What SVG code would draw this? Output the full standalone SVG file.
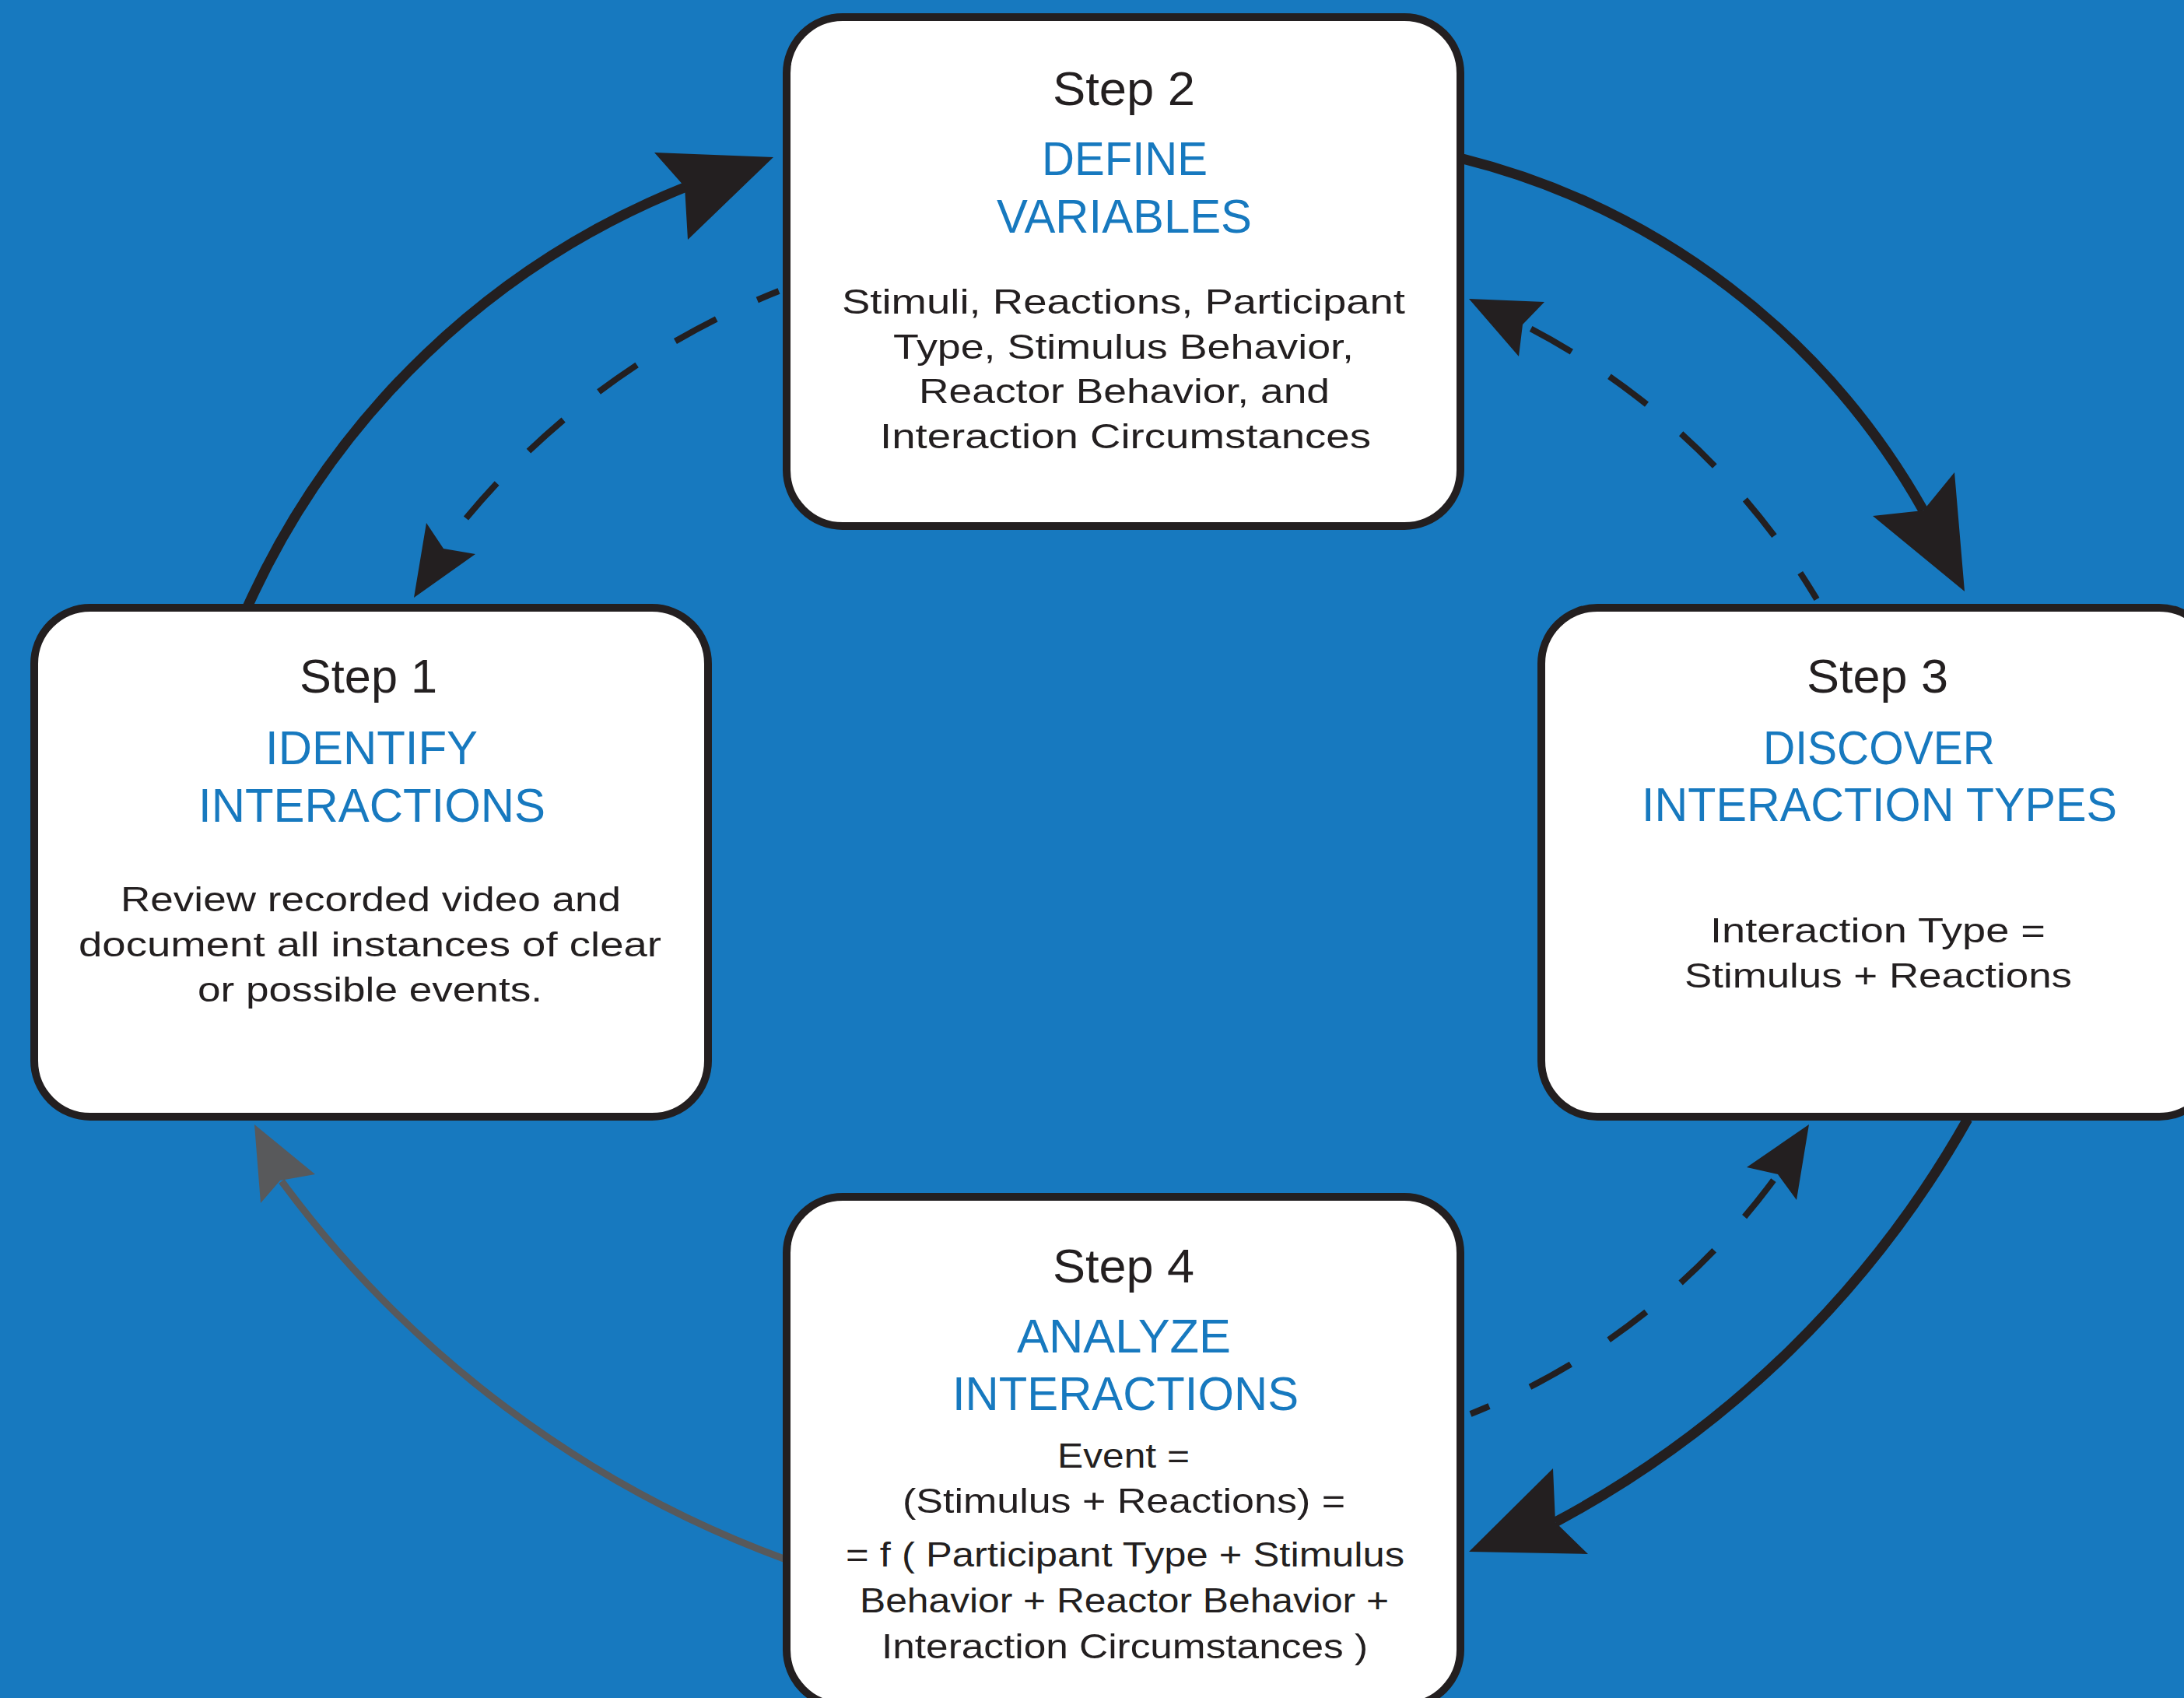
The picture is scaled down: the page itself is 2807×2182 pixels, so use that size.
<svg xmlns="http://www.w3.org/2000/svg" width="2807" height="2182" viewBox="0 0 2807 2182">
<style>
.box{fill:#ffffff;stroke:#231f20;stroke-width:10}
.solid{fill:none;stroke:#231f20;stroke-width:13}
.dash{fill:none;stroke:#231f20;stroke-width:8;stroke-dasharray:60 58}
.gray{fill:none;stroke:#58595b;stroke-width:9}
.head{fill:#231f20}
.ghead{fill:#58595b}
text{font-family:"Liberation Sans",Arial,sans-serif}
.step{font-size:61px;fill:#231f20}
.title{font-size:61px;fill:#1779bf}
.body{font-size:45px;fill:#231f20}
</style>
<rect x="0" y="0" width="2807" height="2182" fill="#1779bf"/>
<g id="connectors">
  <!-- Step1 -> Step2 solid -->
  <path class="solid" d="M318,780 A1041,1041 0 0 1 882,240"/>
  <polygon class="head" points="994,202 841,196 880,240 884,308"/>
  <!-- Step2 -> Step1 dashed -->
  <path class="dash" style="stroke-dashoffset:30" d="M1001,374 A1001,1001 0 0 0 572,700"/>
  <polygon class="head" points="532,768 548,672 570,705 611,712"/>
  <!-- Step2 -> Step3 solid -->
  <path class="solid" d="M1880,204 A944,944 0 0 1 2472,656"/>
  <polygon class="head" points="2525,760 2407,663 2472,656 2512,607"/>
  <!-- Step3 -> Step2 dashed -->
  <path class="dash" style="stroke-dashoffset:20" d="M2335,770 A932,932 0 0 0 1957,417"/>
  <polygon class="head" points="1888,384 1985,388 1957,417 1952,458"/>
  <!-- Step3 -> Step4 solid -->
  <path class="solid" d="M2529,1438 A1325,1325 0 0 1 1999,1956"/>
  <polygon class="head" points="1888,1994 1996,1887 1999,1956 2041,1997"/>
  <!-- Step4 -> Step3 dashed -->
  <path class="dash" style="stroke-dashoffset:34" d="M1890,1817 A899,899 0 0 0 2285,1509"/>
  <polygon class="head" points="2325,1445 2245,1500 2285,1509 2309,1542"/>
  <!-- Step4 -> Step1 gray -->
  <path class="gray" d="M1010,2004 A1405,1405 0 0 1 362,1518"/>
  <polygon class="ghead" points="327,1445 405,1509 360,1517 335,1546"/>
</g>
<g id="step1">
  <rect class="box" x="44" y="781" width="866" height="654" rx="72" ry="72"/>
  <text class="step" x="385" y="890" textLength="177" lengthAdjust="spacingAndGlyphs">Step 1</text>
  <text class="title" x="341" y="982" textLength="273" lengthAdjust="spacingAndGlyphs">IDENTIFY</text>
  <text class="title" x="255" y="1056" textLength="446" lengthAdjust="spacingAndGlyphs">INTERACTIONS</text>
  <text class="body" x="155" y="1171" textLength="643" lengthAdjust="spacingAndGlyphs">Review recorded video and</text>
  <text class="body" x="101" y="1229" textLength="749" lengthAdjust="spacingAndGlyphs">document all instances of clear</text>
  <text class="body" x="254" y="1287" textLength="443" lengthAdjust="spacingAndGlyphs">or possible events.</text>
</g>
<g id="step2">
  <rect class="box" x="1011" y="22" width="866" height="654" rx="72" ry="72"/>
  <text class="step" x="1353" y="135" textLength="183" lengthAdjust="spacingAndGlyphs">Step 2</text>
  <text class="title" x="1339" y="225" textLength="213" lengthAdjust="spacingAndGlyphs">DEFINE</text>
  <text class="title" x="1281" y="299" textLength="328" lengthAdjust="spacingAndGlyphs">VARIABLES</text>
  <text class="body" x="1082" y="403" textLength="724" lengthAdjust="spacingAndGlyphs">Stimuli, Reactions, Participant</text>
  <text class="body" x="1148" y="461" textLength="592" lengthAdjust="spacingAndGlyphs">Type, Stimulus Behavior,</text>
  <text class="body" x="1181" y="518" textLength="528" lengthAdjust="spacingAndGlyphs">Reactor Behavior, and</text>
  <text class="body" x="1131" y="576" textLength="631" lengthAdjust="spacingAndGlyphs">Interaction Circumstances</text>
</g>
<g id="step3">
  <rect class="box" x="1981" y="781" width="866" height="654" rx="72" ry="72"/>
  <text class="step" x="2322" y="890" textLength="182" lengthAdjust="spacingAndGlyphs">Step 3</text>
  <text class="title" x="2266" y="982" textLength="298" lengthAdjust="spacingAndGlyphs">DISCOVER</text>
  <text class="title" x="2110" y="1055" textLength="611" lengthAdjust="spacingAndGlyphs">INTERACTION TYPES</text>
  <text class="body" x="2198" y="1211" textLength="431" lengthAdjust="spacingAndGlyphs">Interaction Type =</text>
  <text class="body" x="2165" y="1269" textLength="498" lengthAdjust="spacingAndGlyphs">Stimulus + Reactions</text>
</g>
<g id="step4">
  <rect class="box" x="1011" y="1538" width="866" height="654" rx="72" ry="72"/>
  <text class="step" x="1353" y="1648" textLength="182" lengthAdjust="spacingAndGlyphs">Step 4</text>
  <text class="title" x="1307" y="1738" textLength="275" lengthAdjust="spacingAndGlyphs">ANALYZE</text>
  <text class="title" x="1224" y="1812" textLength="445" lengthAdjust="spacingAndGlyphs">INTERACTIONS</text>
  <text class="body" x="1359" y="1886" textLength="170" lengthAdjust="spacingAndGlyphs">Event =</text>
  <text class="body" x="1160" y="1944" textLength="569" lengthAdjust="spacingAndGlyphs">(Stimulus + Reactions) =</text>
  <text class="body" x="1087" y="2013" textLength="718" lengthAdjust="spacingAndGlyphs">= f ( Participant Type + Stimulus</text>
  <text class="body" x="1105" y="2072" textLength="680" lengthAdjust="spacingAndGlyphs">Behavior + Reactor Behavior +</text>
  <text class="body" x="1133" y="2131" textLength="625" lengthAdjust="spacingAndGlyphs">Interaction Circumstances )</text>
</g>
</svg>
